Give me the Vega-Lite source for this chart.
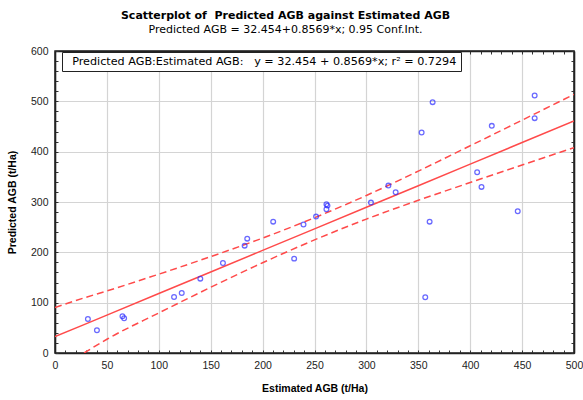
{
  "$schema": "https://vega.github.io/schema/vega-lite/v6.json",
  "autosize": {"type": "none"},
  "width": 519,
  "height": 302,
  "padding": {"left": 55, "top": 51, "right": 9, "bottom": 47},
  "background": "white",
  "title": {
    "text": "Scatterplot of\u00a0 Predicted AGB against Estimated AGB",
    "subtitle": "Predicted AGB = 32.454+0.8569*x; 0.95 Conf.Int.",
    "font": "DejaVu Sans",
    "subtitleFont": "DejaVu Sans",
    "fontSize": 11,
    "fontWeight": "bold",
    "subtitleFontSize": 11,
    "color": "black",
    "subtitleColor": "black",
    "anchor": "middle",
    "frame": "group",
    "dx": -29,
    "offset": 11,
    "subtitlePadding": 3
  },
  "datasets": {
    "pts": [
      {"est": 31.7, "pred": 67.6},
      {"est": 40.4, "pred": 45.1},
      {"est": 65.0, "pred": 73.0},
      {"est": 66.6, "pred": 69.0},
      {"est": 114.7, "pred": 111.3},
      {"est": 122.1, "pred": 119.3},
      {"est": 140.0, "pred": 147.7},
      {"est": 161.8, "pred": 178.9},
      {"est": 182.7, "pred": 213.3},
      {"est": 185.2, "pred": 227.2},
      {"est": 210.2, "pred": 261.0},
      {"est": 230.4, "pred": 187.5},
      {"est": 239.4, "pred": 255.3},
      {"est": 251.5, "pred": 271.0},
      {"est": 261.5, "pred": 295.6},
      {"est": 262.5, "pred": 292.8},
      {"est": 261.5, "pred": 285.7},
      {"est": 304.4, "pred": 298.8},
      {"est": 321.2, "pred": 332.6},
      {"est": 328.2, "pred": 319.5},
      {"est": 353.2, "pred": 438.0},
      {"est": 363.8, "pred": 498.4},
      {"est": 360.9, "pred": 261.0},
      {"est": 406.7, "pred": 359.2},
      {"est": 410.9, "pred": 330.0},
      {"est": 420.8, "pred": 451.3},
      {"est": 445.8, "pred": 281.7},
      {"est": 462.1, "pred": 511.5},
      {"est": 462.1, "pred": 466.6},
      {"est": 356.7, "pred": 110.7}
    ],
    "band": [
      {"x": 0, "fit": 32.45, "upper": 90.5, "lower": null},
      {"x": 28, "fit": 56.45, "upper": 109.5, "lower": 0},
      {"x": 50, "fit": 75.3, "upper": 123.3, "lower": 27.3},
      {"x": 100, "fit": 118.1, "upper": 156.6, "lower": 79.6},
      {"x": 150, "fit": 161.0, "upper": 191.5, "lower": 130.5},
      {"x": 200, "fit": 203.8, "upper": 228.3, "lower": 179.3},
      {"x": 250, "fit": 246.7, "upper": 268.7, "lower": 224.7},
      {"x": 300, "fit": 289.5, "upper": 313.0, "lower": 266.0},
      {"x": 350, "fit": 332.4, "upper": 361.4, "lower": 303.4},
      {"x": 400, "fit": 375.2, "upper": 411.7, "lower": 338.7},
      {"x": 450, "fit": 418.1, "upper": 462.6, "lower": 373.6},
      {"x": 500, "fit": 460.9, "upper": 513.9, "lower": 407.9}
    ]
  },
  "resolve": {"axis": {"x": "independent", "y": "independent"}},
  "layer": [
    {
      "data": {"name": "band"},
      "mark": {"type": "line", "color": "#ff4a4a", "strokeWidth": 1.5, "strokeDash": [7, 4], "interpolate": "monotone", "clip": true},
      "encoding": {
        "x": {"field": "x", "type": "quantitative", "axis": null},
        "y": {"field": "upper", "type": "quantitative", "axis": null}
      }
    },
    {
      "data": {"name": "band"},
      "mark": {"type": "line", "color": "#ff4a4a", "strokeWidth": 1.5, "strokeDash": [7, 4], "interpolate": "monotone", "clip": true},
      "encoding": {
        "x": {"field": "x", "type": "quantitative", "axis": null},
        "y": {"field": "lower", "type": "quantitative", "axis": null}
      }
    },
    {
      "data": {"name": "band"},
      "mark": {"type": "line", "strokeWidth": 1.5, "clip": true},
      "encoding": {
        "x": {"field": "x", "type": "quantitative",
          "axis": {"orient": "top", "title": null, "labels": false, "grid": false,
            "values": [0,10,20,30,40,50,60,70,80,90,100,110,120,130,140,150,160,170,180,190,200,210,220,230,240,250,260,270,280,290,300,310,320,330,340,350,360,370,380,390,400,410,420,430,440,450,460,470,480,490,500],
            "tickSize": -3,
            "tickColor": "#333333", "domainColor": "#222222"}},
        "y": {"field": "fit", "type": "quantitative",
          "axis": {"orient": "right", "title": null, "labels": false, "grid": false,
            "values": [0,20,40,60,80,100,120,140,160,180,200,220,240,260,280,300,320,340,360,380,400,420,440,460,480,500,520,540,560,580,600],
            "tickSize": -3,
            "tickColor": "#333333", "domainColor": "#222222"}},
        "color": {
          "datum": "Predicted AGB:Estimated AGB:\u00a0\u00a0 y = 32.454 + 0.8569*x; r² = 0.7294",
          "type": "nominal",
          "scale": {"range": ["#ff4a4a"]},
          "legend": {
            "orient": "none", "legendX": 7, "legendY": 1, "title": null,
            "strokeColor": "#222222", "fillColor": "white", "padding": 4,
            "labelFont": "DejaVu Sans", "labelFontSize": 11.2, "labelColor": "black",
            "labelLimit": 1000, "symbolSize": 0, "symbolStrokeWidth": 0, "symbolOpacity": 0,
            "labelOffset": -5
          }
        }
      }
    },
    {
      "data": {"name": "pts"},
      "mark": {"type": "point", "shape": "circle", "filled": false, "stroke": "#2b2bff", "strokeWidth": 1.3, "size": 22, "clip": true},
      "encoding": {
        "x": {"field": "est", "type": "quantitative",
          "scale": {"domain": [0, 500], "nice": false, "zero": false},
          "axis": {"orient": "bottom", "title": "Estimated AGB (t/Ha)",
            "values": [0,10,20,30,40,50,60,70,80,90,100,110,120,130,140,150,160,170,180,190,200,210,220,230,240,250,260,270,280,290,300,310,320,330,340,350,360,370,380,390,400,410,420,430,440,450,460,470,480,490,500],
            "labelExpr": "datum.value % 50 === 0 ? datum.label : ''",
            "grid": true, "gridColor": "#d4d4d4", "gridWidth": 1.2,
            "gridOpacity": {"condition": {"test": "datum.value % 50 === 0 && datum.value > 0 && datum.value < 500", "value": 1}, "value": 0},
            "tickSize": -3,
            "tickColor": "#333333", "domainColor": "#222222",
            "labelFont": "Liberation Sans", "labelFontSize": 10.5, "labelColor": "#222222",
            "labelPadding": 10, "labelFlush": false, "labelOverlap": false,
            "titleFont": "Liberation Sans", "titleFontSize": 10.5, "titleFontWeight": "bold", "titleColor": "black",
            "titlePadding": 13}},
        "y": {"field": "pred", "type": "quantitative",
          "scale": {"domain": [0, 600], "nice": false, "zero": false},
          "axis": {"orient": "left", "title": "Predicted AGB (t/Ha)",
            "values": [0,20,40,60,80,100,120,140,160,180,200,220,240,260,280,300,320,340,360,380,400,420,440,460,480,500,520,540,560,580,600],
            "labelExpr": "datum.value % 100 === 0 ? datum.label : ''",
            "grid": true, "gridColor": "#d4d4d4", "gridWidth": 1.2,
            "gridOpacity": {"condition": {"test": "datum.value % 100 === 0 && datum.value > 0 && datum.value < 600", "value": 1}, "value": 0},
            "tickSize": -3,
            "tickColor": "#333333", "domainColor": "#222222",
            "labelFont": "Liberation Sans", "labelFontSize": 10.5, "labelColor": "#222222",
            "labelPadding": 10, "labelFlush": false, "labelOverlap": false,
            "titleFont": "Liberation Sans", "titleFontSize": 10.5, "titleFontWeight": "bold", "titleColor": "black",
            "titlePadding": 13}}
      }
    }
  ],
  "config": {
    "view": {"stroke": "#222222", "strokeWidth": 1.5},
    "axis": {"domainWidth": 1.6, "tickWidth": 1}
  }
}
